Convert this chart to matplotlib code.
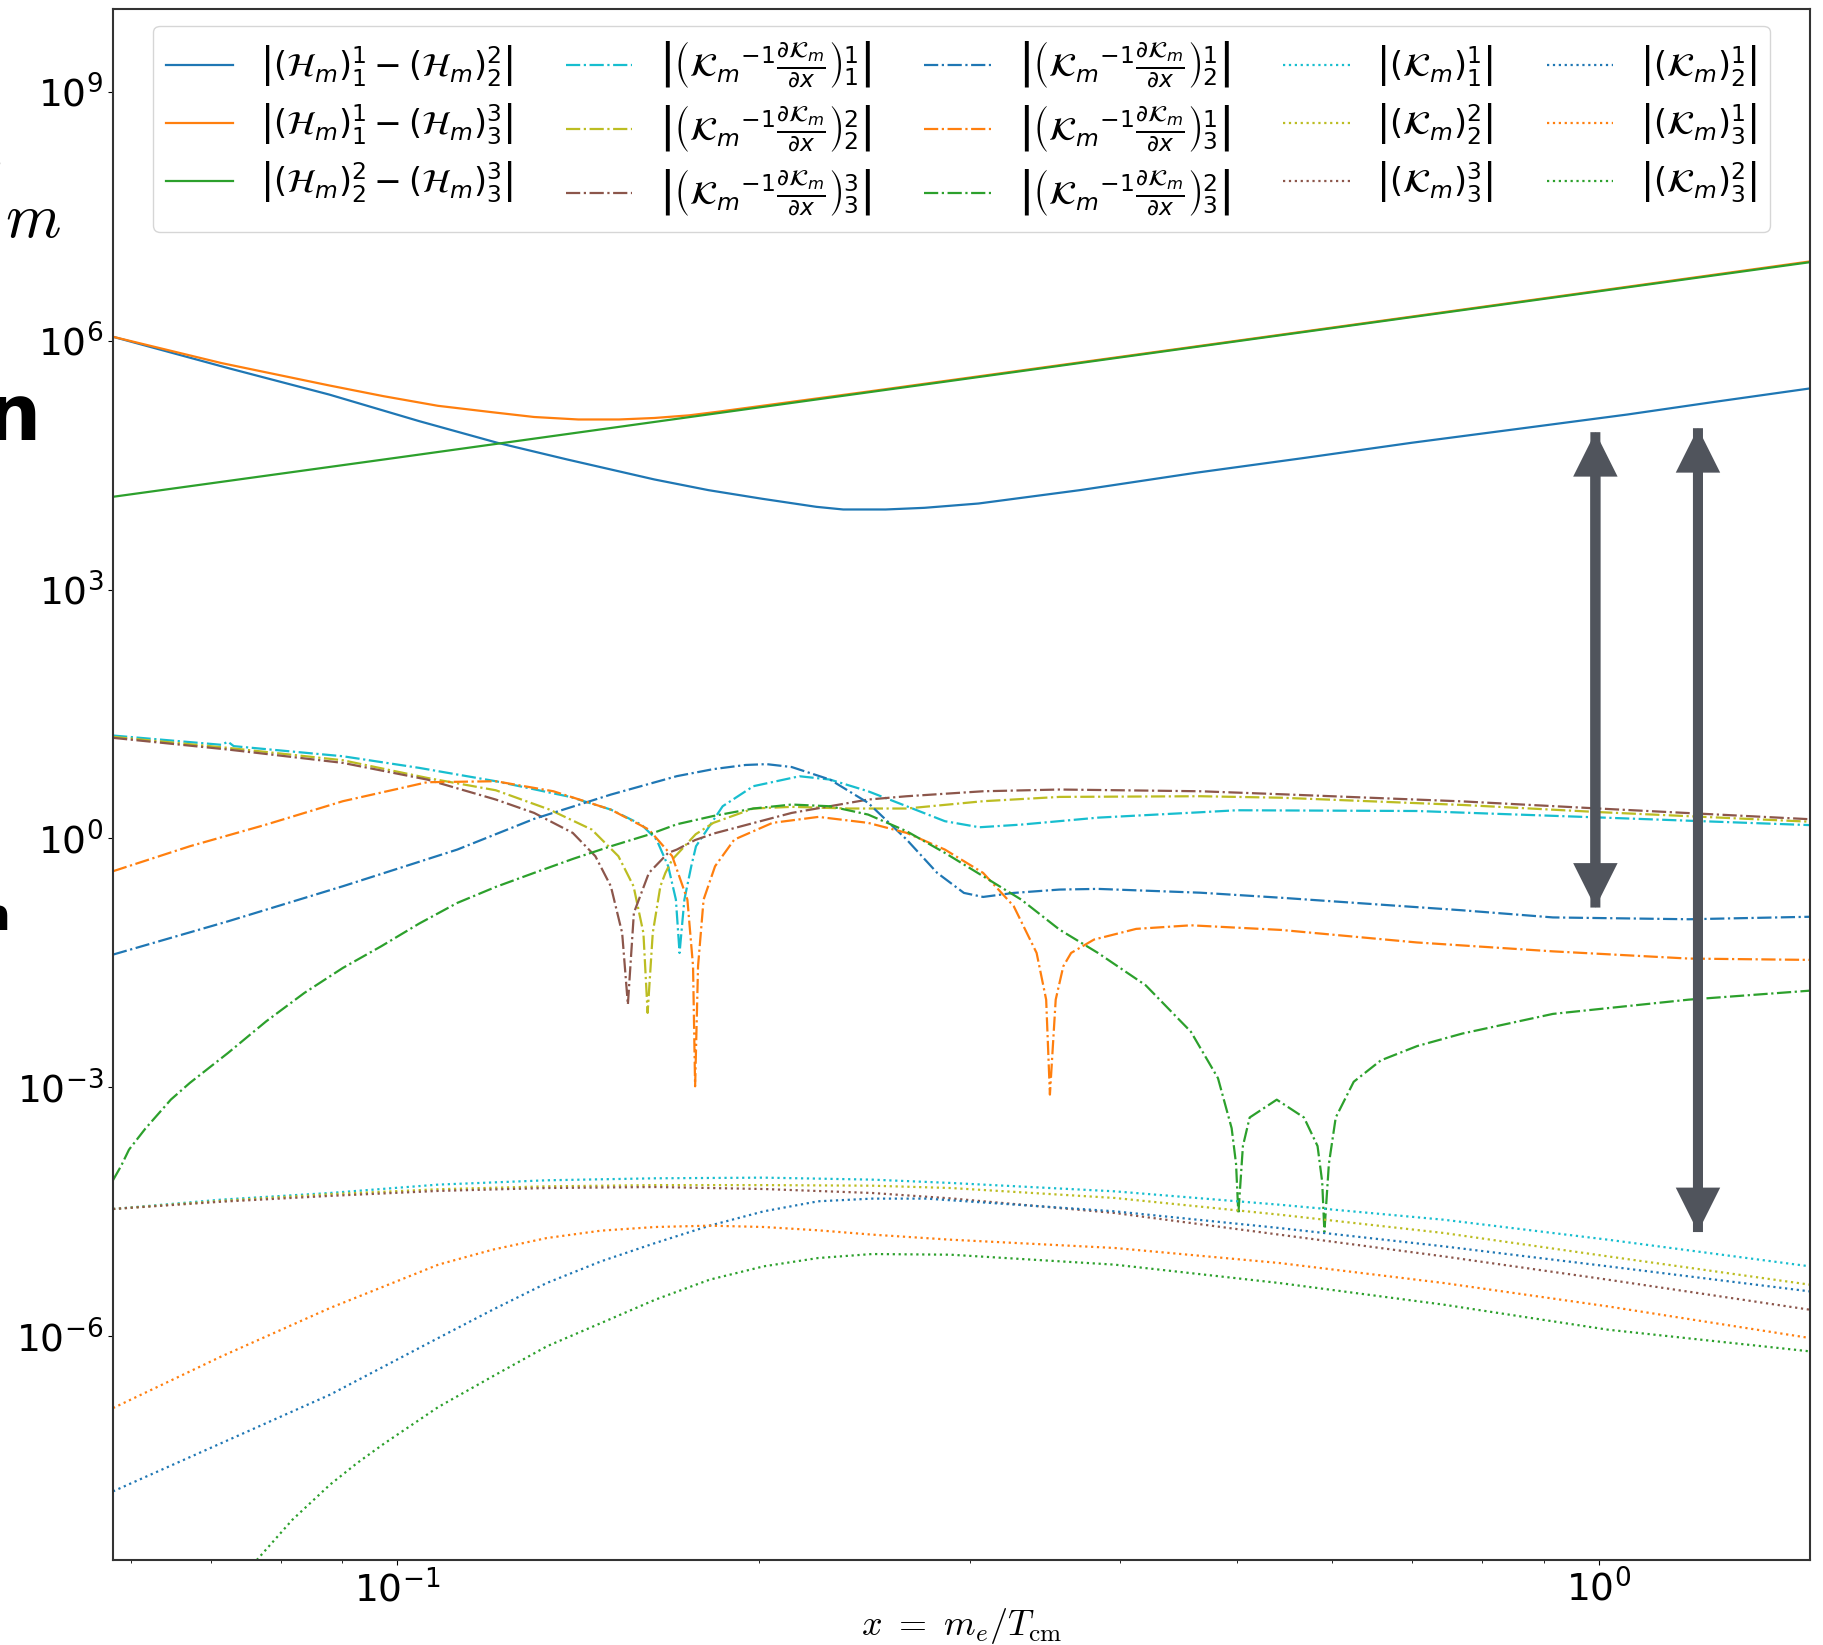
import numpy as np
import matplotlib
matplotlib.use('Agg')
import matplotlib.pyplot as plt
from matplotlib.patches import FancyArrowPatch
from matplotlib.ticker import NullLocator

# values
# x = m_e / T_cm ; every curve keeps log10 of its y value

# |(H_m)_i^i - (H_m)_j^j|  (solid)
x_h12 = [0.058, 0.0723, 0.0878, 0.1043, 0.1211, 0.1385, 0.1637, 0.1816, 0.2013, 0.2233,
         0.2351, 0.255, 0.2747, 0.3047, 0.37, 0.4618, 0.57, 0.6988, 0.85, 1.057,
         1.25, 1.499]
ly_h12 = [6.047, 5.67, 5.35, 5.03, 4.77, 4.568, 4.327, 4.198, 4.094, 3.997,
          3.965, 3.965, 3.985, 4.037, 4.198, 4.407, 4.588, 4.769, 4.930, 5.11,
          5.263, 5.424]

x_h13 = [0.058, 0.0714, 0.0878, 0.0974, 0.1081, 0.1199, 0.13, 0.1415, 0.153, 0.1637,
         0.175, 0.1853, 0.2013, 0.2476, 0.3047, 0.4618, 0.6988, 1.057, 1.499]
ly_h13 = [6.047, 5.73, 5.46, 5.331, 5.215, 5.138, 5.08, 5.050, 5.050, 5.068,
          5.10, 5.145, 5.215, 5.39, 5.57, 5.93, 6.29, 6.65, 6.955]

x_h23 = [0.058, 0.1, 0.2, 0.5, 1.0, 1.499]
ly_h23 = [4.118, 4.590, 5.195, 5.993, 6.595, 6.946]

# |(K_m^-1 dK_m/dx)_i^j|  (dash-dot)
x_d11 = [0.058, 0.0714, 0.0723, 0.0731, 0.0901, 0.1043, 0.1208, 0.1393, 0.1506, 0.1597,
         0.1644, 0.1681, 0.1706, 0.1718, 0.1734, 0.1757, 0.1773, 0.1796, 0.1866, 0.1979,
         0.2162, 0.2292, 0.2466, 0.2655, 0.2857, 0.3052, 0.3307, 0.3831, 0.4663, 0.5,
         0.7063, 1.0, 1.499]
ly_d11 = [1.240, 1.128, 1.165, 1.112, 0.990, 0.850, 0.689, 0.500, 0.347, 0.166,
          -0.015, -0.336, -0.738, -1.381, -0.738, -0.336, -0.095, 0.026, 0.3875, 0.629,
          0.749, 0.709, 0.568, 0.3875, 0.207, 0.134, 0.166, 0.250, 0.315, 0.339,
          0.330, 0.2525, 0.160]

x_d22 = [0.058, 0.0723, 0.0901, 0.1059, 0.1208, 0.1339, 0.1452, 0.1528, 0.1573, 0.1603,
         0.1616, 0.1632, 0.1656, 0.1672, 0.1694, 0.1772, 0.1833, 0.1979, 0.2130, 0.2377,
         0.2655, 0.3074, 0.3559, 0.4663, 0.5445, 0.7702, 1.0, 1.499]
ly_d22 = [1.224, 1.091, 0.942, 0.729, 0.58, 0.347, 0.106, -0.215, -0.577, -1.14,
          -2.104, -1.14, -0.577, -0.416, -0.256, 0.05, 0.187, 0.36, 0.38, 0.36,
          0.36, 0.448, 0.50, 0.508, 0.49, 0.403, 0.317, 0.201]

x_d33 = [0.058, 0.0723, 0.0901, 0.1059, 0.1208, 0.1300, 0.1400, 0.1462, 0.1506, 0.1539,
         0.1556, 0.1574, 0.1620, 0.1681, 0.1709, 0.1770, 0.1836, 0.2130, 0.2466, 0.2655,
         0.3074, 0.3559, 0.4663, 0.5445, 0.7702, 1.0, 1.499]
ly_d33 = [1.212, 1.071, 0.910, 0.709, 0.468, 0.307, 0.066, -0.215, -0.577, -1.14,
          -2.004, -0.898, -0.416, -0.175, -0.135, -0.02, 0.06, 0.307, 0.468, 0.508,
          0.568, 0.589, 0.568, 0.532, 0.446, 0.360, 0.231]

x_d12 = [0.058, 0.0723, 0.0901, 0.1122, 0.1300, 0.1506, 0.1709, 0.1833, 0.1950, 0.2030,
         0.2130, 0.2292, 0.2466, 0.2655, 0.2815, 0.2963, 0.3074, 0.3260, 0.3559, 0.3831,
         0.4663, 0.5445, 0.7702, 0.9163, 1.189, 1.499]
ly_d12 = [-1.401, -1.0, -0.577, -0.135, 0.235, 0.528, 0.75, 0.835, 0.885, 0.895,
          0.86, 0.709, 0.428, -0.0145, -0.416, -0.6575, -0.706, -0.6575, -0.617, -0.609,
          -0.655, -0.716, -0.867, -0.953, -0.975, -0.945]

x_d13 = [0.058, 0.0672, 0.0778, 0.0901, 0.1059, 0.1208, 0.1349, 0.1506, 0.1620, 0.1694,
         0.1744, 0.1763, 0.1770, 0.1780, 0.1799, 0.1839, 0.1908, 0.2053, 0.2242, 0.2466,
         0.2655, 0.2857, 0.3074, 0.3260, 0.3406, 0.3469, 0.3494, 0.3533, 0.3585, 0.3639,
         0.3802, 0.4122, 0.4578, 0.5445, 0.7063, 0.9163, 1.189, 1.499]
ly_d13 = [-0.396, -0.095, 0.1665, 0.448, 0.677, 0.689, 0.568, 0.347, 0.106, -0.215,
          -0.738, -1.54, -2.989, -1.541, -0.738, -0.336, -0.0145, 0.187, 0.259, 0.187,
          0.066, -0.135, -0.416, -0.818, -1.381, -1.944, -3.089, -1.944, -1.541, -1.381,
          -1.22, -1.091, -1.048, -1.104, -1.255, -1.362, -1.449, -1.465]

x_d23 = [0.058, 0.0589, 0.0598, 0.0617, 0.0648, 0.0672, 0.0723, 0.0778, 0.0837, 0.0901,
         0.0970, 0.1043, 0.1122, 0.1208, 0.1300, 0.1400, 0.1506, 0.1620, 0.1709, 0.1833,
         0.1979, 0.2130, 0.2292, 0.2466, 0.2655, 0.2857, 0.3074, 0.3307, 0.3559, 0.3831,
         0.4198, 0.4578, 0.4822, 0.4950, 0.4992, 0.5014, 0.5058, 0.5124, 0.5397, 0.5686,
         0.5836, 0.5888, 0.5913, 0.5964, 0.6043, 0.6255, 0.6589, 0.7063, 0.7702, 0.9163,
         1.189, 1.499]
ly_d23 = [-4.12, -3.95, -3.753, -3.50, -3.149, -2.948, -2.587, -2.205, -1.863, -1.562,
          -1.3, -1.027, -0.778, -0.585, -0.416, -0.248, -0.095, 0.046, 0.17, 0.27,
          0.36, 0.408, 0.387, 0.287, 0.086, -0.175, -0.456, -0.738, -1.1, -1.381,
          -1.771, -2.331, -2.891, -3.494, -3.925, -4.528, -3.709, -3.365, -3.15, -3.365,
          -3.709, -4.14, -4.743, -3.925, -3.365, -2.934, -2.676, -2.504, -2.353, -2.116,
          -1.944, -1.836]

# |(K_m)_i^j|  (dotted)
x_k = [0.058, 0.0714, 0.0879, 0.1082, 0.1332, 0.1640, 0.2019, 0.2485, 0.2888, 0.3956,
       0.5422, 0.7430, 1.018, 1.499]
ly_k11 = [-4.468, -4.355, -4.275, -4.174, -4.122, -4.098, -4.09, -4.114, -4.154, -4.255,
          -4.416, -4.597, -4.838, -5.159]
ly_k22 = [-4.468, -4.37, -4.29, -4.23, -4.195, -4.18, -4.18, -4.187, -4.215, -4.335,
          -4.536, -4.757, -5.039, -5.38]
ly_k33 = [-4.468, -4.38, -4.31, -4.25, -4.215, -4.203, -4.227, -4.275, -4.34, -4.516,
          -4.777, -5.039, -5.32, -5.682]

x_k12 = [0.058, 0.0714, 0.0879, 0.1082, 0.1201, 0.1332, 0.1478, 0.1640, 0.1820, 0.2019,
         0.2241, 0.2485, 0.2758, 0.3956, 0.5422, 0.7430, 1.018, 1.499]
ly_k12 = [-7.872, -7.29, -6.707, -6.023, -5.682, -5.36, -5.099, -4.878, -4.669, -4.496,
          -4.375, -4.343, -4.343, -4.496, -4.697, -4.918, -5.159, -5.461]

x_k13 = [0.058, 0.0714, 0.0879, 0.1082, 0.1201, 0.1332, 0.1478, 0.1640, 0.1820, 0.2019,
         0.2241, 0.2485, 0.2888, 0.3956, 0.5422, 0.7430, 1.018, 1.499]
ly_k13 = [-6.868, -6.245, -5.662, -5.139, -4.958, -4.818, -4.729, -4.685, -4.669, -4.685,
          -4.725, -4.777, -4.838, -4.938, -5.119, -5.36, -5.642, -6.023]

x_k23 = [0.0764, 0.0818, 0.0879, 0.0926, 0.0975, 0.1082, 0.1201, 0.1332, 0.1478, 0.1640,
         0.1820, 0.2019, 0.2241, 0.2485, 0.2888, 0.3956, 0.5422, 0.7430, 1.018, 1.499]
ly_k23 = [-8.70, -8.214, -7.792, -7.531, -7.297, -6.855, -6.485, -6.124, -5.843, -5.561,
          -5.32, -5.159, -5.059, -5.011, -5.019, -5.139, -5.36, -5.621, -5.923, -6.184]

blue, orange, green = '#1f77b4', '#ff7f0e', '#2ca02c'
cyan, olive, brown = '#17becf', '#bcbd22', '#8c564b'

dd = r'\left|\left(\mathcal{K}_m{}^{-1}\frac{\partial\mathcal{K}_m}{\partial x}\right)'

curves = [
    (x_h12, ly_h12, blue, '-', r'$\left|(\mathcal{H}_m)_1^1-(\mathcal{H}_m)_2^2\right|$'),
    (x_h13, ly_h13, orange, '-', r'$\left|(\mathcal{H}_m)_1^1-(\mathcal{H}_m)_3^3\right|$'),
    (x_h23, ly_h23, green, '-', r'$\left|(\mathcal{H}_m)_2^2-(\mathcal{H}_m)_3^3\right|$'),
    (x_d11, ly_d11, cyan, '-.', '$' + dd + r'_1^1\right|$'),
    (x_d22, ly_d22, olive, '-.', '$' + dd + r'_2^2\right|$'),
    (x_d33, ly_d33, brown, '-.', '$' + dd + r'_3^3\right|$'),
    (x_d12, ly_d12, blue, '-.', '$' + dd + r'_2^1\right|$'),
    (x_d13, ly_d13, orange, '-.', '$' + dd + r'_3^1\right|$'),
    (x_d23, ly_d23, green, '-.', '$' + dd + r'_3^2\right|$'),
    (x_k, ly_k11, cyan, ':', r'$\left|(\mathcal{K}_m)_1^1\right|$'),
    (x_k, ly_k22, olive, ':', r'$\left|(\mathcal{K}_m)_2^2\right|$'),
    (x_k, ly_k33, brown, ':', r'$\left|(\mathcal{K}_m)_3^3\right|$'),
    (x_k12, ly_k12, blue, ':', r'$\left|(\mathcal{K}_m)_2^1\right|$'),
    (x_k13, ly_k13, orange, ':', r'$\left|(\mathcal{K}_m)_3^1\right|$'),
    (x_k23, ly_k23, green, ':', r'$\left|(\mathcal{K}_m)_3^2\right|$'),
]

fig = plt.figure(figsize=(18.23, 16.45), dpi=100)
ax = fig.add_axes([0.062, 0.0517, 0.9309, 0.9429])

for xs, lys, col, ls, lab in curves:
    ax.plot(xs, 10 ** np.array(lys), color=col, linestyle=ls, linewidth=1.6, label=lab)

ax.set_xscale('log')
ax.set_yscale('log')
ax.set_xlim(0.058, 1.5)
ax.set_ylim(2e-9, 1e10)
ax.set_yticks([1e-6, 1e-3, 1e0, 1e3, 1e6, 1e9])
ax.yaxis.set_minor_locator(NullLocator())
ax.tick_params(axis='both', which='major', labelsize=27)
for sp in ax.spines.values():
    sp.set_linewidth(1.5)
    sp.set_color('#333333')

xl = ax.set_xlabel(r'$x\ =\ m_e/T_{\rm cm}$', fontsize=26, math_fontfamily='cm')
xl.set_va('center')
ax.xaxis.set_label_coords(0.5, -0.0425)

ax.legend(loc='upper center', ncol=5, fontsize=24, handlelength=2.0,
          columnspacing=1.6, labelspacing=0.4)

# double-headed arrows marking the gaps
arrow_col = '#50545c'
for xa, lo, hi in [(0.994, 10 ** -0.834, 10 ** 4.897), (1.21, 10 ** -4.746, 10 ** 4.945)]:
    for a, b in [(lo, hi), (hi, lo)]:
        ax.add_patch(FancyArrowPatch((xa, a), (xa, b),
                                     arrowstyle='simple,head_length=32,head_width=32,tail_width=7.2',
                                     mutation_scale=1, shrinkA=0, shrinkB=0,
                                     color=arrow_col, lw=0, zorder=5))

# fragments of slide text cut at the left border
fig.text(62 / 1823, 1 - 223 / 1645, r'$\mathcal{K}_m$', fontsize=65, math_fontfamily='cm',
         ha='right', va='baseline')
fig.text(41 / 1823, 1 - 440 / 1645, 'n', fontsize=56, fontweight='bold',
         ha='right', va='baseline')
fig.text(10 / 1823, 1 - 930 / 1645, 'n', fontsize=32, fontweight='bold',
         ha='right', va='baseline')

fig.savefig('out.png', dpi=100)
